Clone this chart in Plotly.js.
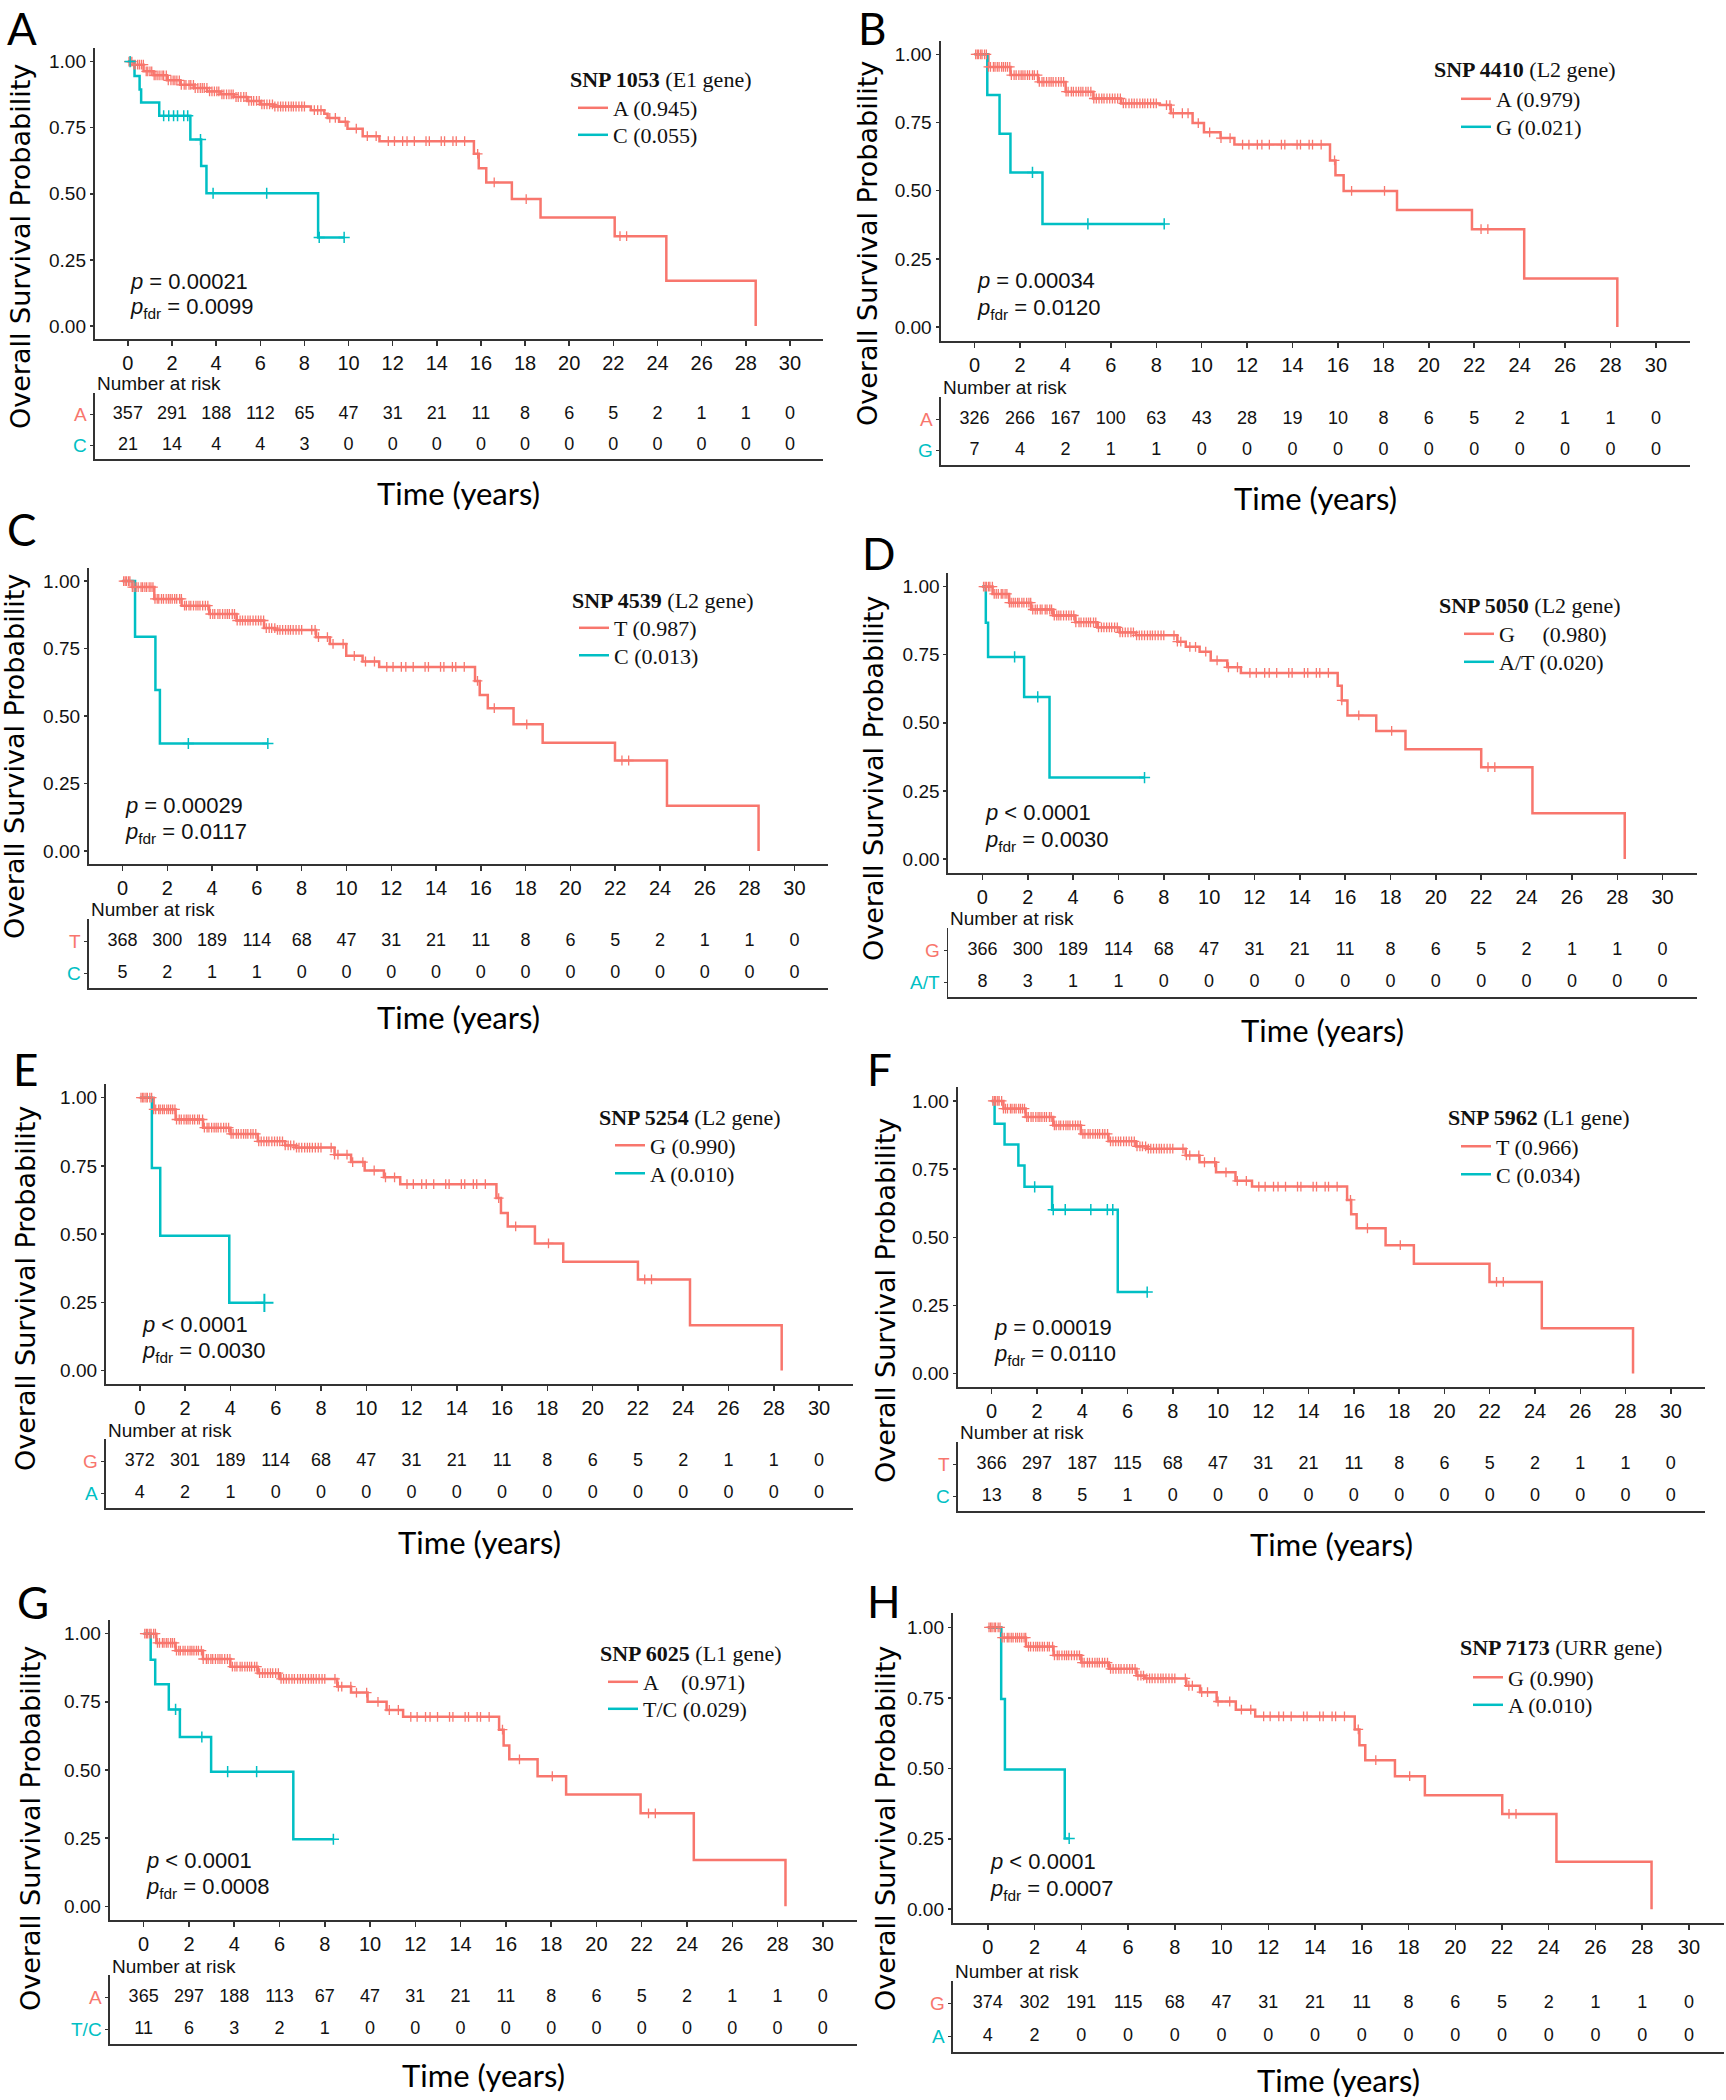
<!DOCTYPE html>
<html><head><meta charset="utf-8">
<script src="https://cdn.plot.ly/plotly-3.0.1.min.js"></script>
<style>html,body{margin:0;padding:0;background:#fff}#chart{width:1726px;height:2100px}</style>
</head><body><div id="chart"></div>
<script>
// ---------------- DATA ----------------
const riskTimes = [0,2,4,6,8,10,12,14,16,18,20,22,24,26,28,30];
const xTickVals = [0,2,4,6,8,10,12,14,16,18,20,22,24,26,28,30];
const yTickVals = [0,0.25,0.5,0.75,1];
const yTickText = ['0.00','0.25','0.50','0.75','1.00'];

// censoring times on the major-allele curves
const refCensor = [0.05,0.12,0.18,0.27,0.33,0.44,0.52,0.61,0.7,0.83,0.9,1.0,1.08,1.19,1.27,1.36,1.45,1.55,1.62,1.74,1.83,1.95,2.05,2.13,2.22,2.33,2.42,2.55,2.63,2.77,2.85,2.97,3.05,3.17,3.28,3.37,3.46,3.58,3.7,3.81,3.92,4.03,4.12,4.26,4.35,4.47,4.58,4.68,4.77,4.9,5.0,5.12,5.25,5.36,5.48,5.6,5.7,5.83,5.95,6.07,6.18,6.3,6.42,6.55,6.66,6.8,6.92,7.03,7.15,7.28,7.4,7.5,7.62,7.75,7.88,8.0,8.45,8.6,8.75,9.15,9.4,9.85,10.35,10.85,11.25,11.8,12.08,12.45,12.65,12.98,13.51,13.66,14.2,14.35,14.73,14.88,15.26,15.85,16.6,18.05,22.3,22.6];

// SNP 1053
const s1053_refT = [0,0.25,0.71,1.16,1.77,2.38,2.98,3.59,4.2,4.8,5.41,6.01,6.62,8.29,8.9,9.05,9.57,9.95,10.64,11.4,15.68,15.9,16.24,17.4,18.7,22.06,24.4,28.45];
const s1053_refS = [1,0.988,0.963,0.948,0.929,0.912,0.900,0.887,0.876,0.866,0.851,0.838,0.830,0.816,0.803,0.787,0.772,0.746,0.718,0.699,0.651,0.597,0.543,0.480,0.410,0.340,0.171,0];
const s1053_minT = [0,0.3,0.53,0.6,1.42,2.83,3.32,3.56,8.62,9.8];
const s1053_minS = [1,0.945,0.894,0.845,0.795,0.705,0.605,0.502,0.335,0.335];
const s1053_minCens = [0.1,1.62,1.85,2.07,2.25,2.53,2.71,3.29,3.86,6.29,8.67,9.8];
const s1053_riskRef = [357,291,188,112,65,47,31,21,11,8,6,5,2,1,1,0];
const s1053_riskMin = [21,14,4,4,3,0,0,0,0,0,0,0,0,0,0,0];

// SNP 4410
const s4410_refT = [0,0.61,1.58,2.8,4.01,5.23,6.45,8.15,8.64,9.6,10.1,10.83,11.44,15.65,15.89,16.25,18.6,21.9,24.2,28.3];
const s4410_refS = [1,0.954,0.924,0.899,0.863,0.838,0.820,0.814,0.784,0.748,0.714,0.693,0.669,0.611,0.557,0.499,0.429,0.359,0.178,0];
const s4410_minT = [0,0.56,1.1,1.58,2.99,8.35];
const s4410_minS = [1,0.851,0.709,0.567,0.378,0.378];
const s4410_minCens = [2.55,4.99,8.35];
const s4410_riskRef = [326,266,167,100,63,43,28,19,10,8,6,5,2,1,1,0];
const s4410_riskMin = [7,4,2,1,1,0,0,0,0,0,0,0,0,0,0,0];

// SNP 4539
const s4539_refT = [0,0.44,1.42,2.64,3.87,5.09,6.32,6.81,8.64,9.26,9.99,10.72,11.46,15.74,15.95,16.31,17.46,18.76,21.99,24.31,28.4];
const s4539_refS = [1,0.978,0.934,0.909,0.878,0.854,0.826,0.819,0.792,0.767,0.723,0.702,0.682,0.630,0.578,0.529,0.469,0.401,0.335,0.167,0];
const s4539_minT = [0,0.56,1.47,1.67,6.49];
const s4539_minS = [1,0.794,0.596,0.398,0.398];
const s4539_minCens = [2.94,6.49];
const s4539_riskRef = [368,300,189,114,68,47,31,21,11,8,6,5,2,1,1,0];
const s4539_riskMin = [5,2,1,1,0,0,0,0,0,0,0,0,0,0,0,0];

// SNP 5050
const s5050_refT = [0,0.45,1.18,2.15,3.12,4.1,5.07,6.05,6.78,8.6,8.97,9.58,10.07,10.8,11.4,15.67,15.85,16.1,17.37,18.66,22.0,24.26,28.33];
const s5050_refS = [1,0.973,0.941,0.916,0.894,0.869,0.850,0.832,0.821,0.798,0.779,0.761,0.729,0.704,0.683,0.636,0.582,0.527,0.470,0.403,0.337,0.168,0];
const s5050_minT = [0,0.15,0.25,1.84,2.96,7.15];
const s5050_minS = [1,0.867,0.742,0.595,0.299,0.299];
const s5050_minCens = [1.42,2.44,7.15];
const s5050_riskRef = [366,300,189,114,68,47,31,21,11,8,6,5,2,1,1,0];
const s5050_riskMin = [8,3,1,1,0,0,0,0,0,0,0,0,0,0,0,0];

// SNP 5254
const s5254_refT = [0,0.61,1.58,2.79,4.0,5.21,6.42,6.9,8.6,9.33,9.93,10.78,11.5,15.75,15.95,16.25,17.45,18.7,22.0,24.3,28.35];
const s5254_refS = [1,0.957,0.920,0.890,0.867,0.840,0.825,0.817,0.791,0.764,0.733,0.708,0.683,0.632,0.577,0.528,0.466,0.399,0.334,0.166,0];
const s5254_minT = [0,0.53,0.9,3.95,5.5];
const s5254_minS = [1,0.742,0.494,0.248,0.248];
const s5254_minCens = [5.5];
const s5254_riskRef = [372,301,189,114,68,47,31,21,11,8,6,5,2,1,1,0];
const s5254_riskMin = [4,2,1,0,0,0,0,0,0,0,0,0,0,0,0,0];

// SNP 5962
const s5962_refT = [0,0.52,1.5,2.72,3.94,5.16,6.38,6.87,8.57,9.18,9.91,10.77,11.5,15.7,15.88,16.12,17.4,18.65,21.99,24.3,28.33];
const s5962_refS = [1,0.972,0.941,0.910,0.879,0.852,0.833,0.825,0.800,0.775,0.738,0.707,0.686,0.637,0.584,0.533,0.471,0.403,0.336,0.166,0];
const s5962_minT = [0,0.13,0.57,1.18,1.45,2.67,5.57,6.87];
const s5962_minS = [1,0.916,0.840,0.763,0.685,0.601,0.299,0.299];
const s5962_minCens = [1.9,2.72,3.25,4.38,5.11,5.35,6.87];
const s5962_riskRef = [366,297,187,115,68,47,31,21,11,8,6,5,2,1,1,0];
const s5962_riskMin = [13,8,5,1,0,0,0,0,0,0,0,0,0,0,0,0];

// SNP 6025
const s6025_refT = [0,0.56,1.41,2.62,3.83,5.04,6.01,8.55,9.16,9.89,10.73,11.46,15.7,15.9,16.15,17.4,18.66,21.95,24.3,28.35];
const s6025_refS = [1,0.966,0.938,0.907,0.879,0.855,0.834,0.806,0.784,0.750,0.720,0.695,0.648,0.590,0.539,0.477,0.410,0.341,0.170,0];
const s6025_minT = [0,0.31,0.51,1.11,1.6,2.98,6.61,8.38];
const s6025_minS = [1,0.904,0.814,0.722,0.621,0.494,0.246,0.246];
const s6025_minCens = [1.41,2.57,3.71,4.99,8.38];
const s6025_riskRef = [365,297,188,113,67,47,31,21,11,8,6,5,2,1,1,0];
const s6025_riskMin = [11,6,3,2,1,0,0,0,0,0,0,0,0,0,0,0];

// SNP 7173
const s7173_refT = [0,0.57,1.63,2.81,4.0,5.18,6.36,6.71,8.49,9.08,9.79,10.61,11.44,15.7,15.9,16.15,17.42,18.7,22.01,24.33,28.4];
const s7173_refS = [1,0.964,0.932,0.901,0.875,0.853,0.829,0.819,0.793,0.770,0.737,0.708,0.684,0.638,0.582,0.529,0.472,0.404,0.338,0.168,0];
const s7173_minT = [0,0.57,0.73,3.29,3.48];
const s7173_minS = [1,0.746,0.496,0.251,0.251];
const s7173_minCens = [3.48];
const s7173_riskRef = [374,302,191,115,68,47,31,21,11,8,6,5,2,1,1,0];
const s7173_riskMin = [4,2,0,0,0,0,0,0,0,0,0,0,0,0,0,0];

// ---------------- PANELS (labels + placement) ----------------
const NB = '\u00A0';
const panels = [
 {letter:'A', title:'<b>SNP 1053</b> (E1 gene)', refName:'A (0.945)', minName:'C (0.055)', refLab:'A', minLab:'C',
  p1:'<i>p</i> = 0.00021', p2:'<i>p</i><sub>fdr</sub> = 0.0099',
  refT:s1053_refT, refS:s1053_refS, minT:s1053_minT, minS:s1053_minS, minC:s1053_minCens, rRef:s1053_riskRef, rMin:s1053_riskMin,
  box:{l:94.8,r:823,kt:48.3,kb:339.3,tt:393,tb:459,nr:383,time:493,lx:5,ly:3,ytx:20,yty:247,legx:568,legy:80,tx:613,e1:108,e2:135}},
 {letter:'B', title:'<b>SNP 4410</b> (L2 gene)', refName:'A (0.979)', minName:'G (0.021)', refLab:'A', minLab:'G',
  p1:'<i>p</i> = 0.00034', p2:'<i>p</i><sub>fdr</sub> = 0.0120',
  refT:s4410_refT, refS:s4410_refS, minT:s4410_minT, minS:s4410_minS, minC:s4410_minCens, rRef:s4410_riskRef, rMin:s4410_riskMin,
  box:{l:940.5,r:1690,kt:40.7,kb:340.7,tt:397,tb:465,nr:387,time:498,lx:856,ly:3,ytx:868,yty:244,legx:1432,legy:70,tx:1496,e1:99,e2:127}},
 {letter:'C', title:'<b>SNP 4539</b> (L2 gene)', refName:'T (0.987)', minName:'C (0.013)', refLab:'T', minLab:'C',
  p1:'<i>p</i> = 0.00029', p2:'<i>p</i><sub>fdr</sub> = 0.0117',
  refT:s4539_refT, refS:s4539_refS, minT:s4539_minT, minS:s4539_minS, minC:s4539_minCens, rRef:s4539_riskRef, rMin:s4539_riskMin,
  box:{l:88.9,r:828,kt:567.6,kb:864.4,tt:919,tb:987.5,nr:909.7,time:1017,lx:5,ly:510,ytx:15,yty:757,legx:570,legy:600,tx:614,e1:628,e2:655.5}},
 {letter:'D', title:'<b>SNP 5050</b> (L2 gene)', refName:'G'+NB+NB+NB+NB+NB+'(0.980)', minName:'A/T (0.020)', refLab:'G', minLab:'A/T',
  p1:'<i>p</i> < 0.0001', p2:'<i>p</i><sub>fdr</sub> = 0.0030',
  refT:s5050_refT, refS:s5050_refS, minT:s5050_minT, minS:s5050_minS, minC:s5050_minCens, rRef:s5050_riskRef, rMin:s5050_riskMin,
  box:{l:948.4,r:1696.6,kt:573,kb:872.6,tt:928.4,tb:997.3,nr:919,time:1030,lx:860,ly:534,ytx:874,yty:778,legx:1437,legy:605,tx:1499,e1:634,e2:662}},
 {letter:'E', title:'<b>SNP 5254</b> (L2 gene)', refName:'G (0.990)', minName:'A (0.010)', refLab:'G', minLab:'A',
  p1:'<i>p</i> < 0.0001', p2:'<i>p</i><sub>fdr</sub> = 0.0030',
  refT:s5254_refT, refS:s5254_refS, minT:s5254_minT, minS:s5254_minS, minC:s5254_minCens, rRef:s5254_riskRef, rMin:s5254_riskMin,
  box:{l:105.9,r:853,kt:1084,kb:1384.2,tt:1439,tb:1508.2,nr:1430.5,time:1542,lx:11,ly:1050,ytx:25,yty:1289,legx:597,legy:1117,tx:650,e1:1145.5,e2:1173.5}},
 {letter:'F', title:'<b>SNP 5962</b> (L1 gene)', refName:'T (0.966)', minName:'C (0.034)', refLab:'T', minLab:'C',
  p1:'<i>p</i> = 0.00019', p2:'<i>p</i><sub>fdr</sub> = 0.0110',
  refT:s5962_refT, refS:s5962_refS, minT:s5962_minT, minS:s5962_minS, minC:s5962_minCens, rRef:s5962_riskRef, rMin:s5962_riskMin,
  box:{l:957.7,r:1704.8,kt:1087.3,kb:1387.2,tt:1442,tb:1511,nr:1432.8,time:1543.7,lx:865,ly:1050,ytx:885,yty:1301,legx:1446,legy:1117,tx:1496,e1:1146.5,e2:1174.5}},
 {letter:'G', title:'<b>SNP 6025</b> (L1 gene)', refName:'A'+NB+NB+NB+NB+'(0.971)', minName:'T/C (0.029)', refLab:'A', minLab:'T/C',
  p1:'<i>p</i> < 0.0001', p2:'<i>p</i><sub>fdr</sub> = 0.0008',
  refT:s6025_refT, refS:s6025_refS, minT:s6025_minT, minS:s6025_minS, minC:s6025_minCens, rRef:s6025_riskRef, rMin:s6025_riskMin,
  box:{l:109.7,r:856.8,kt:1620,kb:1920,tt:1975,tb:2044.3,nr:1966,time:2075.4,lx:15,ly:1583,ytx:30,yty:1829,legx:598,legy:1653,tx:643,e1:1682,e2:1709}},
 {letter:'H', title:'<b>SNP 7173</b> (URR gene)', refName:'G (0.990)', minName:'A (0.010)', refLab:'G', minLab:'A',
  p1:'<i>p</i> < 0.0001', p2:'<i>p</i><sub>fdr</sub> = 0.0007',
  refT:s7173_refT, refS:s7173_refS, minT:s7173_minT, minS:s7173_minS, minC:s7173_minCens, rRef:s7173_riskRef, rMin:s7173_riskMin,
  box:{l:952.8,r:1724,kt:1613.3,kb:1923.3,tt:1980.8,tb:2051.7,nr:1971.6,time:2080,lx:865,ly:1582,ytx:885,yty:1829,legx:1458,legy:1647,tx:1508,e1:1677.5,e2:1705}}
];

// ---------------- BUILD ----------------
const W = 1726, H = 2100;
const COL_REF = '#F8766D', COL_MIN = '#00BFC4';
const AX = '#333333', TXT = '#111111';
const SANS = 'Liberation Sans, Arial, sans-serif';
const SERIF = 'Liberation Serif, Times New Roman, serif';
const CAL = 'Lato, Open Sans, sans-serif';

function survAt(T, S, t) {
  let s = S[0];
  for (let i = 0; i < T.length; i++) { if (T[i] <= t) s = S[i]; else break; }
  return s;
}
const aid = k => (k === 1 ? '' : String(k));
const legId = n => (n === 1 ? 'legend' : 'legend' + n);

const traces = [];
const layout = {
  width: W, height: H, margin: {l:0, r:0, t:0, b:0},
  paper_bgcolor: '#ffffff', plot_bgcolor: 'rgba(0,0,0,0)',
  showlegend: true, annotations: [],
  font: {family: SANS, color: TXT}
};

function addLegend(n, textX, yc) {
  layout[legId(n)] = {
    x: (textX - 40) / W, y: 1 - yc / H, xanchor: 'left', yanchor: 'middle',
    bgcolor: 'rgba(0,0,0,0)', borderwidth: 0, itemwidth: 30,
    font: {family: SERIF, size: 22, color: TXT}
  };
}

panels.forEach((p, i) => {
  const b = p.box;
  const k1 = 2*i + 1, k2 = 2*i + 2;
  const xd = [b.l / W, b.r / W];

  layout['xaxis' + aid(k1)] = {
    domain: xd, range: [-1.5, 31.5], anchor: 'y' + aid(k1),
    tickmode: 'array', tickvals: xTickVals, ticks: 'outside', ticklen: 5, tickwidth: 1.5, tickcolor: AX,
    showline: true, linecolor: AX, linewidth: 2, showgrid: false, zeroline: false,
    tickfont: {family: SANS, size: 20, color: TXT}, fixedrange: true
  };
  layout['yaxis' + aid(k1)] = {
    domain: [1 - b.kb / H, 1 - b.kt / H], range: [-0.05, 1.05], anchor: 'x' + aid(k1),
    tickmode: 'array', tickvals: yTickVals, ticktext: yTickText, ticks: 'outside', ticklen: 3, tickwidth: 1.5, tickcolor: AX,
    showline: true, linecolor: AX, linewidth: 2, showgrid: false, zeroline: false,
    tickfont: {family: SANS, size: 19, color: TXT}, fixedrange: true
  };
  layout['xaxis' + aid(k2)] = {
    domain: xd, range: [-1.5, 31.5], anchor: 'y' + aid(k2),
    showline: true, linecolor: AX, linewidth: 2, showgrid: false, zeroline: false,
    showticklabels: false, ticks: '', fixedrange: true
  };
  layout['yaxis' + aid(k2)] = {
    domain: [1 - b.tb / H, 1 - b.tt / H], range: [0.55, 2.7], anchor: 'x' + aid(k2),
    tickmode: 'array', tickvals: [2, 1], showticklabels: false,
    ticks: 'outside', ticklen: 3, tickwidth: 1, tickcolor: AX,
    showline: true, linecolor: AX, linewidth: 1.5, showgrid: false, zeroline: false, fixedrange: true
  };

  const nRef = 2*i + 1, nMin = 2*i + 2;
  addLegend(nRef, b.tx, b.e1);
  addLegend(nMin, b.tx, b.e2);

  const xa = 'x' + aid(k1), ya = 'y' + aid(k1);
  traces.push({type:'scatter', mode:'lines', x:p.refT, y:p.refS, xaxis:xa, yaxis:ya,
    line:{color:COL_REF, width:2.5, shape:'hv'}, name:p.refName, legend:legId(nRef), hoverinfo:'skip'});
  traces.push({type:'scatter', mode:'lines', x:p.minT, y:p.minS, xaxis:xa, yaxis:ya,
    line:{color:COL_MIN, width:2.5, shape:'hv'}, name:p.minName, legend:legId(nMin), hoverinfo:'skip'});
  const rc = refCensor.filter(t => t <= p.refT[p.refT.length - 1]);
  traces.push({type:'scatter', mode:'markers', x:rc, y:rc.map(t => survAt(p.refT, p.refS, t)), xaxis:xa, yaxis:ya,
    marker:{symbol:'cross-thin', size:7, line:{color:COL_REF, width:1.3}}, showlegend:false, hoverinfo:'skip'});
  traces.push({type:'scatter', mode:'markers', x:p.minC, y:p.minC.map(t => survAt(p.minT, p.minS, t)), xaxis:xa, yaxis:ya,
    marker:{symbol:'cross-thin', size: p.letter === 'E' ? 13 : 8, line:{color:COL_MIN, width: p.letter === 'E' ? 2 : 1.5}}, showlegend:false, hoverinfo:'skip'});

  const xb = 'x' + aid(k2), yb = 'y' + aid(k2);
  traces.push({type:'scatter', mode:'text', x:riskTimes, y:riskTimes.map(() => 2), text:p.rRef.map(String),
    xaxis:xb, yaxis:yb, textfont:{family:SANS, size:18, color:TXT}, showlegend:false, hoverinfo:'skip', cliponaxis:false});
  traces.push({type:'scatter', mode:'text', x:riskTimes, y:riskTimes.map(() => 1), text:p.rMin.map(String),
    xaxis:xb, yaxis:yb, textfont:{family:SANS, size:18, color:TXT}, showlegend:false, hoverinfo:'skip', cliponaxis:false});

  const A = layout.annotations;
  // risk table row labels
  A.push({xref:'paper', yref:yb, x:(b.l - 6) / W, y:2, xanchor:'right', yanchor:'middle',
    text:p.refLab, showarrow:false, font:{family:SANS, size:19, color:COL_REF}});
  A.push({xref:'paper', yref:yb, x:(b.l - 6) / W, y:1, xanchor:'right', yanchor:'middle',
    text:p.minLab, showarrow:false, font:{family:SANS, size:19, color:COL_MIN}});
  // legend title
  A.push({xref:'paper', yref:'paper', x:b.legx / W, y:1 - b.legy / H, xanchor:'left', yanchor:'middle',
    text:p.title, showarrow:false, font:{family:SERIF, size:22, color:TXT}});
  // panel letter
  A.push({xref:'paper', yref:'paper', x:b.lx / W, y:Math.min(1, 1 - (b.ly - 9) / H), xanchor:'left', yanchor:'top',
    text:p.letter, showarrow:false, font:{family:CAL, size:44, color:'#000'}});
  A.push({xref:'paper', yref:'paper', x:b.ytx / W, y:1 - b.yty / H, xanchor:'center', yanchor:'middle', textangle:-90,
    text:'Overall Survival Probability', showarrow:false, font:{family:'DejaVu Sans, sans-serif', size:27, color:'#000'}});
  A.push({xref:'paper', yref:'paper', x:(b.l + b.r) / 2 / W, y:1 - b.time / H, xanchor:'center', yanchor:'middle',
    text:'Time (years)', showarrow:false, font:{family:CAL, size:31, color:'#000'}});
  A.push({xref:'paper', yref:'paper', x:b.l / W, y:1 - b.nr / H, xanchor:'left', yanchor:'middle',
    text:'Number at risk', showarrow:false, font:{family:SANS, size:19, color:TXT}});
  A.push({xref:xa + ' domain', yref:ya + ' domain', x:0.046, y:0.2, xanchor:'left', yanchor:'middle',
    text:p.p1, showarrow:false, font:{family:SANS, size:22, color:TXT}});
  A.push({xref:xa + ' domain', yref:ya + ' domain', x:0.046, y:0.106, xanchor:'left', yanchor:'middle',
    text:p.p2, showarrow:false, font:{family:SANS, size:22, color:TXT}});
});

Plotly.newPlot('chart', traces, layout, {staticPlot: true, displayModeBar: false});
</script>
</body></html>
